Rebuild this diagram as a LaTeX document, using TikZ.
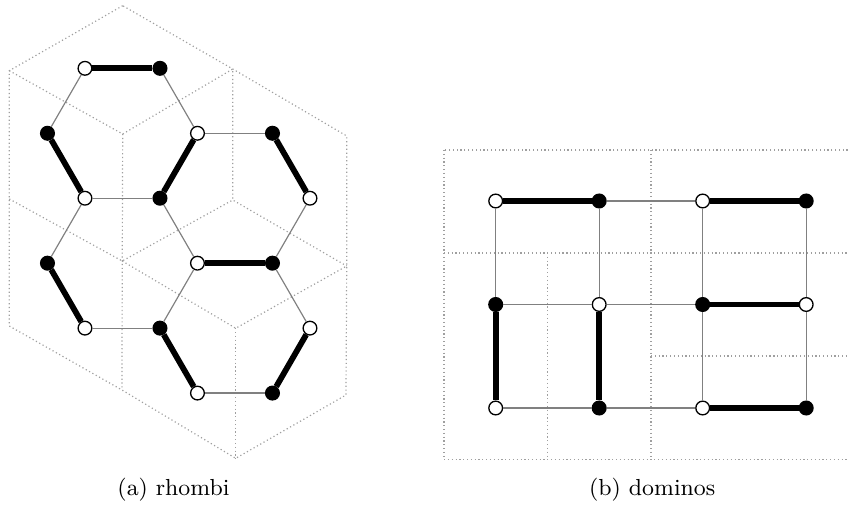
\documentclass[tikz,border=0pt]{standalone}
\begin{document}
\begin{tikzpicture}[style=thin]
\tikzstyle{vertex}=[draw, fill=white, circle, inner sep=0pt, minimum size=5.2pt, line width=0.5pt]
\tikzstyle{filled}=[fill=black]
\tikzstyle{edge}=[draw=gray, line width=0.45pt]
\tikzstyle{dimer}=[draw=black, line width=2.2pt]
\tikzstyle{tile}=[draw=gray!75, densely dotted, line width=0.45pt]
\tikzstyle{caption}=[anchor=base, font=\fontsize{8.8}{10}\selectfont]
\useasboundingbox (0,0) rectangle (11.32,-6.76);

% rhombus corners
\coordinate (r1) at (1.636,-0.076);
\coordinate (r2) at (0.124,-0.943);
\coordinate (r3) at (3.103,-0.920);
\coordinate (r4) at (1.636,-1.787);
\coordinate (r5) at (4.623,-1.813);
\coordinate (r6) at (0.124,-2.653);
\coordinate (r7) at (3.103,-2.667);
\coordinate (r8) at (1.630,-3.480);
\coordinate (r9) at (4.623,-3.547);
\coordinate (r10) at (0.124,-4.347);
\coordinate (r11) at (3.143,-4.377);
\coordinate (r12) at (4.613,-5.267);
\coordinate (r13) at (1.626,-5.200);
\coordinate (r14) at (3.143,-6.111);

\draw [tile] (r1) -- (r2) -- (r6) -- (r10) -- (r13) -- (r14) -- (r12) -- (r9) -- (r5) -- (r3) -- cycle;
\draw [tile] (r2) -- (r4) -- (r3) -- (r7) -- (r9);
\draw [tile] (r4) -- (r8) -- (r13);
\draw [tile] (r6) -- (r8) -- (r7);
\draw [tile] (r8) -- (r11) -- (r9);
\draw [tile] (r11) -- (r14);

% hexagons
\node [vertex] (1) at (1.133,-0.911) {};
\node [vertex, filled] (2) at (2.133,-0.911) {};
\node [vertex, filled] (3) at (0.633,-1.777) {};
\node [vertex] (4) at (2.633,-1.777) {};
\node [vertex, filled] (5) at (3.633,-1.777) {};
\node [vertex] (6) at (1.133,-2.643) {};
\node [vertex, filled] (7) at (2.133,-2.643) {};
\node [vertex] (8) at (4.133,-2.643) {};
\node [vertex, filled] (9) at (0.633,-3.509) {};
\node [vertex] (10) at (2.633,-3.509) {};
\node [vertex, filled] (11) at (3.633,-3.509) {};
\node [vertex] (12) at (1.133,-4.375) {};
\node [vertex, filled] (13) at (2.133,-4.375) {};
\node [vertex] (14) at (4.133,-4.375) {};
\node [vertex] (15) at (2.633,-5.241) {};
\node [vertex, filled] (16) at (3.633,-5.241) {};

\draw [dimer] (1) -- (2);
\draw [edge] (2) -- (4);
\draw [dimer] (4) -- (7);
\draw [edge] (7) -- (6);
\draw [dimer] (6) -- (3);
\draw [edge] (3) -- (1);
\draw [edge] (4) -- (5);
\draw [dimer] (5) -- (8);
\draw [edge] (8) -- (11);
\draw [dimer] (11) -- (10);
\draw [edge] (10) -- (7);
\draw [edge] (6) -- (9);
\draw [dimer] (9) -- (12);
\draw [edge] (12) -- (13);
\draw [edge] (13) -- (10);
\draw [edge] (11) -- (14);
\draw [dimer] (14) -- (16);
\draw [edge] (16) -- (15);
\draw [dimer] (15) -- (13);

% dominos
\draw [tile] (5.92,-2) rectangle (11.44,-6.127);
\draw [tile] (5.92,-3.373) -- (11.44,-3.373);
\draw [tile] (8.68,-2) -- (8.68,-6.127);
\draw [tile] (7.30,-3.373) -- (7.30,-6.127);
\draw [tile] (8.68,-4.747) -- (11.44,-4.747);

% square grid
\node [vertex] (17) at (6.609,-2.68) {};
\node [vertex, filled] (18) at (7.989,-2.68) {};
\node [vertex] (19) at (9.369,-2.68) {};
\node [vertex, filled] (20) at (10.749,-2.68) {};
\node [vertex, filled] (21) at (6.609,-4.06) {};
\node [vertex] (22) at (7.989,-4.06) {};
\node [vertex, filled] (23) at (9.369,-4.06) {};
\node [vertex] (24) at (10.749,-4.06) {};
\node [vertex] (25) at (6.609,-5.44) {};
\node [vertex, filled] (26) at (7.989,-5.44) {};
\node [vertex] (27) at (9.369,-5.44) {};
\node [vertex, filled] (28) at (10.749,-5.44) {};

\draw [dimer] (17) -- (18);
\draw [edge] (18) -- (19);
\draw [dimer] (19) -- (20);
\draw [edge] (21) -- (22);
\draw [edge] (22) -- (23);
\draw [dimer] (23) -- (24);
\draw [edge] (25) -- (26);
\draw [edge] (26) -- (27);
\draw [dimer] (27) -- (28);
\draw [edge] (17) -- (21);
\draw [dimer] (21) -- (25);
\draw [edge] (18) -- (22);
\draw [dimer] (22) -- (26);
\draw [edge] (19) -- (23);
\draw [edge] (23) -- (27);
\draw [edge] (20) -- (24);
\draw [edge] (24) -- (28);

\node [caption] (capa) at (2.313,-6.609) {(a) rhombi};
\node [caption] (capb) at (8.696,-6.609) {(b) dominos};
\end{tikzpicture}
\end{document}
